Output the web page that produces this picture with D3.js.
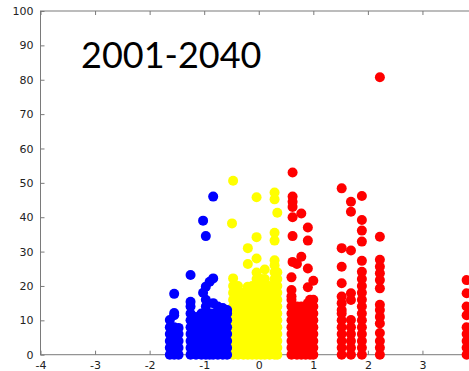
<!DOCTYPE html>
<html>
<head>
<meta charset="utf-8">
<script src="https://cdn.jsdelivr.net/npm/d3@7"></script>
<style>
  html, body { margin: 0; padding: 0; background: #fff; }
  svg { display: block; }
</style>
</head>
<body>
<div id="chart"></div>
<script>
// period label
const title = '2001-2040';

const xTicks = [-4, -3, -2, -1, 0, 1, 2, 3, 4];
const yTicks = [0, 10, 20, 30, 40, 50, 60, 70, 80, 90, 100];

// each column: x position and the y values of the dots stacked on it
const blueCols = [
  { x: -1.63, ys: [0, 2, 4, 6, 8, 10.1] },
  { x: -1.55, ys: [0, 2, 4, 6, 8, 11.5, 12.1, 17.7] },
  { x: -1.47, ys: [0, 2, 4, 6, 7.8] },
  { x: -1.25, ys: [0, 2, 4, 6, 8, 10, 12, 14, 15.4, 23.2] },
  { x: -1.15, ys: [0, 2, 4, 6, 8, 10, 11] },
  { x: -1.05, ys: [0, 2, 4, 6, 8, 10, 12] },
  { x: -1.02, ys: [18, 39] },
  { x: -0.97, ys: [0, 2, 4, 6, 8, 10, 12, 14, 16, 19.8, 34.5] },
  { x: -0.9, ys: [0, 2, 4, 6, 8, 10, 12, 21.2] },
  { x: -0.835, ys: [0, 2, 4, 6, 8, 10, 12, 15, 22.2, 46] },
  { x: -0.75, ys: [0, 2, 4, 6, 8, 10, 12, 14] },
  { x: -0.66, ys: [0, 2, 4, 6, 8, 10, 12, 13.6] },
  { x: -0.58, ys: [0, 2, 4, 6, 8, 10, 12, 13] }
];

const yellowCols = [
  { x: -0.47, ys: [0, 2, 4, 6, 8, 10, 12, 14, 16, 18, 20, 22.2, 50.6] },
  { x: -0.49, ys: [38.2] },
  { x: -0.38, ys: [0, 2, 4, 6, 8, 10, 12, 14, 16, 18, 20] },
  { x: -0.28, ys: [0, 2, 4, 6, 8, 10, 12, 14, 16, 18] },
  { x: -0.2, ys: [0, 2, 4, 6, 8, 10, 12, 14, 16, 18, 19.8, 26.4, 31] },
  { x: -0.12, ys: [0, 2, 4, 6, 8, 10, 12, 14, 16, 18, 20] },
  { x: -0.04, ys: [0, 2, 4, 6, 8, 10, 12, 14, 16, 18, 20, 22, 23.9, 28, 34.2, 45.8] },
  { x: 0.04, ys: [0, 2, 4, 6, 8, 10, 12, 14, 16, 18, 20, 22] },
  { x: 0.11, ys: [0, 2, 4, 6, 8, 10, 12, 14, 16, 18, 20, 22, 24.8] },
  { x: 0.2, ys: [0, 2, 4, 6, 8, 10, 12, 14, 16, 18, 20] },
  { x: 0.29, ys: [0, 2, 4, 6, 8, 10, 12, 14, 16, 18, 20, 22, 24, 26, 27.5, 33.2, 35.5, 45.2, 47.2] },
  { x: 0.34, ys: [0, 2, 4, 6, 8, 10, 12, 14, 16, 18, 20, 22, 24, 41.3] }
];

const redCols = [
  { x: 0.6, ys: [0, 2, 4, 6, 8, 10, 12, 14, 16, 17, 18.8, 22.5] },
  { x: 0.62, ys: [27, 34.5, 40, 43, 44.5, 46, 53] },
  { x: 0.7, ys: [0, 2, 4, 6, 8, 10, 12, 14, 26.4] },
  { x: 0.78, ys: [0, 2, 4, 6, 8, 10, 12, 14, 28.5, 41.1] },
  { x: 0.86, ys: [0, 2, 4, 6, 8, 10, 12, 14] },
  { x: 0.9, ys: [15, 19.6, 25.1, 33.2, 37] },
  { x: 0.94, ys: [0, 2, 4, 6, 8, 10, 12, 14, 16] },
  { x: 1.0, ys: [0, 2, 4, 6, 8, 10, 12, 14, 16, 21.5] },
  { x: 1.52, ys: [0, 2, 4, 6, 8, 10, 12, 13, 15, 16.9, 20.8, 25.6, 31, 48.4] },
  { x: 1.69, ys: [0, 2, 4, 6, 8, 10.1, 15.9, 17.9, 30.3, 41.6, 44.5] },
  { x: 1.89, ys: [0, 2, 4, 6, 8, 10, 12, 14, 16, 18, 20, 22, 24.1, 27.3, 32.9, 36.1, 39.2, 46.2] },
  { x: 2.22, ys: [0, 2, 4, 6.3, 9.1, 11, 13, 14.5, 19.3, 21.7, 23.7, 25.6, 27.6, 34.3, 80.7] },
  { x: 3.81, ys: [0, 2, 4, 6, 8, 11.5, 14, 17.9, 21.7] }
];

const W = 469, H = 371;
const x = d3.scaleLinear().domain([-4, 4]).range([40.5, 477]);
const y = d3.scaleLinear().domain([0, 100]).range([354.7, 11]);

const svg = d3.select('#chart').append('svg')
  .attr('width', W)
  .attr('height', H);

svg.append('rect').attr('width', W).attr('height', H).attr('fill', '#fff');

const axisColor = '#7a7a7a';
const labelFont = '"DejaVu Sans", sans-serif';

// box frame
svg.append('rect')
  .attr('x', x(-4)).attr('y', y(100))
  .attr('width', x(4) - x(-4)).attr('height', y(0) - y(100))
  .attr('fill', 'none')
  .attr('stroke', axisColor)
  .attr('stroke-width', 1);

// inward ticks on bottom and top; the 4 label falls outside the picture
const xAxisBottom = d3.axisBottom(x).tickValues(xTicks).tickSize(-4).tickPadding(8)
  .tickFormat(d => d === 4 ? '' : (d < 0 ? '-' + Math.abs(d) : String(d)));
const xAxisTop = d3.axisTop(x).tickValues(xTicks).tickSize(-4).tickFormat('');
const yAxisLeft = d3.axisLeft(y).tickValues(yTicks).tickSize(-4).tickPadding(7)
  .tickFormat(d3.format('d'));

const gx = svg.append('g').attr('transform', `translate(0,${y(0)})`).call(xAxisBottom);
const gxt = svg.append('g').attr('transform', `translate(0,${y(100)})`).call(xAxisTop);
const gy = svg.append('g').attr('transform', `translate(${x(-4)},0)`).call(yAxisLeft);

[gx, gxt, gy].forEach(g => {
  g.select('.domain').remove();
  g.selectAll('.tick line').attr('stroke', axisColor);
  g.selectAll('.tick text')
    .attr('fill', '#222')
    .style('font-family', labelFont)
    .style('font-size', '11px');
});
gx.selectAll('.tick text').attr('dy', '0.55em');
gx.selectAll('.tick text').filter(d => d === 4).remove();

// dots
const groups = [
  { cols: yellowCols, color: '#ffff00' },
  { cols: blueCols, color: '#0000ff' },
  { cols: redCols, color: '#ff0000' }
];

groups.forEach(gr => {
  const pts = gr.cols.flatMap(c => c.ys.map(v => ({ x: c.x, y: v })));
  svg.append('g').selectAll('circle')
    .data(pts)
    .enter()
    .append('circle')
    .attr('cx', d => x(d.x))
    .attr('cy', d => y(d.y))
    .attr('r', 5)
    .attr('fill', gr.color);
});

// title
svg.append('text')
  .attr('x', 81)
  .attr('y', 68)
  .style('font-family', 'Lato, "Open Sans", sans-serif')
  .style('font-size', '36px')
  .attr('fill', '#000')
  .text(title);
</script>
</body>
</html>
